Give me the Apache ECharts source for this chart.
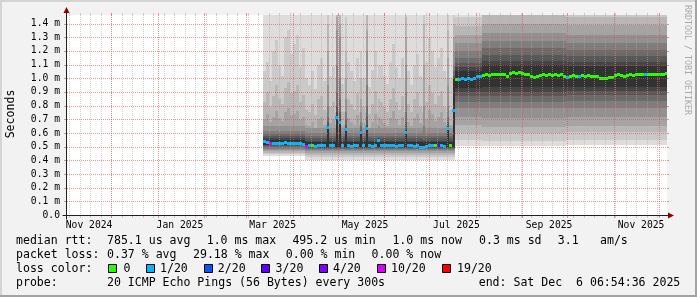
<!DOCTYPE html>
<html><head><meta charset="utf-8">
<script src="https://cdn.jsdelivr.net/npm/echarts@6/dist/echarts.min.js"></script>
<style>html,body{margin:0;padding:0;background:#f2f2f2;}#c{width:697px;height:297px;}</style>
</head><body><div id="c"></div>
<script>
// ---------- time frame: 400 days ending Sat Dec 6 06:54:36 2025 ----------
const rangeDays = 400;
const startUTC = Date.UTC(2024, 10, 1, 6, 54, 36);
const xTickLabels = ['Nov 2024','Jan 2025','Mar 2025','May 2025','Jul 2025','Sep 2025','Nov 2025'];
const xTickDays = [14.7, 75.3, 137.1, 198.7, 259.6, 321.4, 382.7];
const yTicks = [0,0.1,0.2,0.3,0.4,0.5,0.6,0.7,0.8,0.9,1.0,1.1,1.2,1.3,1.4];
const yMax = 1.4631;

// ---------- samples (2-day steps, first one at day 130.667) ----------
const sampleStartDay = 392 / 3;
const sampleStepDays = 2;
const medianMs = [
 0.545,0.535,0.53,0.53,0.525,0.53,0.525,0.535,0.525,0.525,0.53,0.53,0.525,0.52,
 0.505,0.51,0.51,0.505,0.51,0.51,0.515,0.646,0.51,0.515,0.72,0.68,0.51,0.63,
 0.51,0.505,0.515,0.51,0.607,0.515,0.638,0.51,0.505,0.51,0.55,0.515,0.515,0.51,
 0.51,0.51,0.505,0.51,0.51,0.61,0.51,0.51,0.505,0.51,0.50,0.495,0.505,0.51,
 0.51,0.51,0.51,0.51,0.505,0.638,0.51,0.765,
 0.995,0.995,1.0,0.995,1.0,0.995,1.0,1.015,1.015,
 1.025,1.028,1.025,1.03,1.028,1.03,1.035,1.03,1.015,1.04,1.045,1.04,1.045,1.04,1.035,1.035,1.02,1.01,1.02,
 1.025,1.028,1.025,1.028,1.025,1.028,1.025,1.028,1.02,1.01,1.02,1.025,1.02,1.02,1.025,1.02,1.025,1.02,
 1.015,1.015,1.005,1.0,1.005,1.01,1.01,1.025,1.028,1.025,1.02,1.025,1.028,1.025,1.03,1.035,1.03,1.03,
 1.035,1.03,1.035,1.03,1.035,1.035,1.04
];
const lossBucket = [
 1,1,5,1,1,1,1,1,1,1,1,1,1,1,
 5,1,0,1,1,1,1,1,1,1,1,1,1,1,
 1,1,1,1,1,1,1,1,1,1,1,1,1,1,
 1,1,1,1,1,1,1,1,1,1,1,1,1,1,
 1,0,3,1,1,1,0,1,
 0,1,1,1,1,1,1,1,1,
 0,0,0,0,0,0,0,0,0,0,0,0,0,0,0,0,0,0,0,
 0,0,0,0,0,0,0,0,0,1,0,0,0,1,0,0,0,0,
 0,0,0,0,0,0,0,0,0,0,0,0,0,0,0,0,0,1,
 0,0,0,0,0,0,0
];
const lossColors = ['#26ff00','#00b8ff','#0059ff','#5e00ff','#7e00ff','#dd00ff','#ff0000'];
const lossLabels = ['0','1/20','2/20','3/20','4/20','10/20','19/20'];

// ---------- smoke (10 bands, outer -> inner) ----------
const smokeColors = ['#dddddd','#cacaca','#b7b7b7','#a4a4a4','#919191','#7e7e7e','#6b6b6b','#585858','#454545','#323232'];
const blockFirst = [0, 14, 64, 73, 101];
const blockLo = [
 [0.43,0.445,0.455,0.465,0.475,0.485,0.495,0.503,0.51,0.515],
 [0.405,0.425,0.44,0.455,0.465,0.473,0.48,0.487,0.492,0.497],
 [0.505,0.55,0.60,0.655,0.715,0.78,0.83,0.87,0.90,0.93],
 [0.505,0.545,0.60,0.645,0.71,0.78,0.83,0.87,0.90,0.935],
 [0.51,0.55,0.605,0.65,0.715,0.785,0.835,0.875,0.905,0.935]
];
const blockHi = [
 [1.62,null,null,null,0.65,0.615,0.59,0.575,0.56,0.548],
 [1.62,null,null,null,0.635,0.60,0.575,0.56,0.545,0.532],
 [1.62,1.45,1.38,1.32,1.26,1.20,1.15,1.11,1.08,1.05],
 [1.62,1.53,1.46,1.40,1.33,1.27,1.22,1.17,1.13,1.095],
 [1.62,1.52,1.45,1.39,1.32,1.26,1.21,1.16,1.12,1.09]
];
const band2HiP1 = [
 1.05,1.12,0.98,1.20,1.28,1.10,1.02,1.30,1.35,1.18,1.25,1.32,1.08,1.22,
 1.00,0.95,1.05,0.92,1.10,1.15,0.98,1.00,1.02,1.08,1.00,1.00,0.96,1.00,
 1.12,1.05,0.98,1.15,1.00,1.00,1.00,0.94,1.06,1.20,1.00,1.10,1.02,0.96,
 1.12,1.25,1.08,1.00,1.15,1.00,1.05,0.95,1.10,1.18,1.02,1.00,1.12,1.30,
 1.20,1.08,1.15,1.22,1.05,1.00,1.00,1.00
];
const band3HiP1 = [
 0.83,0.90,0.79,0.87,0.95,0.85,0.81,0.93,0.97,0.89,0.91,0.95,0.83,0.88,
 0.77,0.75,0.81,0.73,0.85,0.87,0.77,0.75,0.79,0.83,0.75,0.75,0.75,0.75,
 0.85,0.81,0.77,0.89,0.75,0.79,0.75,0.74,0.81,0.91,0.75,0.83,0.79,0.75,
 0.85,0.93,0.83,0.77,0.87,0.75,0.81,0.75,0.85,0.90,0.79,0.75,0.83,0.95,
 0.89,0.81,0.87,0.91,0.79,0.75,0.77,0.75
];
const band4HiP1 = [
 0.70,0.74,0.68,0.72,0.76,0.71,0.69,0.75,0.78,0.73,0.74,0.76,0.70,0.72,
 0.66,0.65,0.68,0.64,0.70,0.72,0.66,0.66,0.67,0.70,0.66,0.66,0.65,0.66,
 0.71,0.68,0.66,0.73,0.66,0.67,0.66,0.64,0.68,0.74,0.66,0.70,0.67,0.65,
 0.71,0.76,0.70,0.66,0.72,0.66,0.68,0.65,0.71,0.74,0.67,0.66,0.70,0.77,
 0.74,0.69,0.72,0.75,0.68,0.66,0.66,0.66
];
// narrow (one-day) columns where a whole ping round came back high
const spikeIdx = [21,24,25,27,32,34,38,47,53,61,63];
const spikeHi = [
 [1.62,1.50,1.40,1.20,0.95,0.80,0.72,0.68,0.66,0.65],
 [1.62,1.62,1.55,1.45,1.35,1.10,0.90,0.80,0.75,0.72],
 [1.62,1.62,1.50,1.40,1.30,1.00,0.85,0.75,0.70,0.68],
 [1.62,1.45,1.20,1.00,0.85,0.75,0.70,0.66,0.64,0.63],
 [1.62,1.20,1.00,0.85,0.75,0.68,0.65,0.62,0.61,0.607],
 [1.62,1.62,1.50,1.35,1.20,0.95,0.80,0.72,0.66,0.64],
 [1.62,1.10,0.85,0.72,0.65,0.60,0.58,0.565,0.56,0.55],
 [1.62,1.62,1.45,1.30,1.10,0.90,0.75,0.68,0.63,0.61],
 [1.62,1.60,1.40,1.10,0.80,0.65,0.58,0.55,0.54,0.53],
 [1.62,1.55,1.35,1.15,0.95,0.80,0.72,0.68,0.65,0.64],
 [1.62,1.50,1.40,1.30,1.20,1.10,1.05,1.02,1.00,1.00]
];

// ---------- legend texts ----------
const rttTitle = 'median rtt:';
const rttStats = ['785.1 us avg','1.0 ms max','495.2 us min','1.0 ms now','0.3 ms sd','3.1','am/s'];
const lossTitle = 'packet loss:';
const lossStats = ['0.37 % avg','29.18 % max','0.00 % min','0.00 % now'];
const probeText = '20 ICMP Echo Pings (56 Bytes) every 300s';
const endText = 'end: Sat Dec  6 06:54:36 2025';

// ---------- build ----------
const DAY = 86400000;
function dayOf(y, m, d) { return (Date.UTC(y, m, d) - startUTC) / DAY; }
const weekDays = [];
for (let d = dayOf(2024, 10, 3); d <= rangeDays; d += 7) weekDays.push(d);
const monthDays = [];
for (let m = 11; ; m++) { const d = dayOf(2024, m, 1); if (d > rangeDays) break; monthDays.push(d); }

function blockOf(i) { let b = 0; for (let k = 0; k < blockFirst.length; k++) if (i >= blockFirst[k]) b = k; return b; }
const smokeData = [], medianData = [];
for (let i = 0; i < medianMs.length; i++) {
  const b = blockOf(i);
  const lo = blockLo[b].slice();
  const hi = blockHi[b].slice();
  if (i < band2HiP1.length) { hi[1] = band2HiP1[i]; hi[2] = band3HiP1[i]; hi[3] = band4HiP1[i]; }
  const t0 = sampleStartDay + i * sampleStepDays;
  smokeData.push([t0, t0 + sampleStepDays].concat(lo, hi));
  const s = spikeIdx.indexOf(i);
  if (s >= 0) smokeData.push([t0 + sampleStepDays / 3, t0 + sampleStepDays].concat(lo, spikeHi[s]));
  medianData.push([t0, t0 + sampleStepDays, medianMs[i], lossBucket[i]]);
}
const gridData = [];
weekDays.forEach(d => gridData.push([d, 0]));
monthDays.forEach(d => gridData.push([d, 1]));
yTicks.forEach(v => { if (v > 0) gridData.push([v, 2]); });

const MGRID = 'rgba(222,80,80,0.6)', GRID = 'rgba(171,171,171,0.55)';
const mono = '"DejaVu Sans Mono", monospace';

function clampRect(cs, x0, y0, x1, y1) {
  x0 = Math.max(x0, cs.x); x1 = Math.min(x1, cs.x + cs.width);
  y0 = Math.max(y0, cs.y); y1 = Math.min(y1, cs.y + cs.height);
  return {x: x0, y: y0, width: Math.max(0, x1 - x0), height: Math.max(0, y1 - y0)};
}
function renderSmoke(params, api) {
  const cs = params.coordSys;
  const t0 = api.value(0), t1 = api.value(1);
  const ch = [];
  for (let k = 0; k < 10; k++) {
    const lo = api.value(2 + k), hi = api.value(12 + k);
    const a = api.coord([t0, hi]), b = api.coord([t1, lo]);
    ch.push({type: 'rect', shape: clampRect(cs, Math.round(a[0]), Math.round(a[1]), Math.round(b[0]), Math.round(b[1])),
      style: {fill: smokeColors[k]}});
  }
  return {type: 'group', children: ch};
}
function renderMedian(params, api) {
  const cs = params.coordSys;
  const a = api.coord([api.value(0), api.value(2)]), b = api.coord([api.value(1), api.value(2)]);
  const y = Math.round(a[1]);
  return {type: 'rect', shape: clampRect(cs, Math.round(a[0]), y - 1, Math.round(b[0]), y + 2),
    style: {fill: lossColors[api.value(3)]}};
}
function renderGrid(params, api) {
  const cs = params.coordSys;
  const v = api.value(0), kind = api.value(1);
  if (kind === 2) {
    const y = Math.round(api.coord([0, v])[1]) + 0.5;
    return {type: 'group', children: [
      {type: 'line', shape: {x1: cs.x, y1: y, x2: cs.x + cs.width, y2: y}, style: {stroke: MGRID, lineWidth: 1, lineDash: [1, 1]}},
      {type: 'line', shape: {x1: cs.x - 3, y1: y, x2: cs.x - 1, y2: y}, style: {stroke: MGRID, lineWidth: 1}},
      {type: 'line', shape: {x1: cs.x + cs.width, y1: y, x2: cs.x + cs.width + 2, y2: y}, style: {stroke: MGRID, lineWidth: 1}}
    ]};
  }
  const x = Math.floor(api.coord([v, 0])[0]) + 0.5;
  const col = kind === 1 ? MGRID : GRID;
  return {type: 'group', children: [
    {type: 'line', shape: {x1: x, y1: cs.y, x2: x, y2: cs.y + cs.height}, style: {stroke: col, lineWidth: 1, lineDash: [1, 1]}},
    {type: 'line', shape: {x1: x, y1: cs.y - 2, x2: x, y2: cs.y}, style: {stroke: col, lineWidth: 1}},
    {type: 'line', shape: {x1: x, y1: cs.y + cs.height + 1, x2: x, y2: cs.y + cs.height + 3}, style: {stroke: col, lineWidth: 1}}
  ]};
}
function renderAxes(params, api) {
  const o = api.coord([0, 0]), tr = api.coord([rangeDays, yMax]);
  const ox = Math.round(o[0]) - 0.5, oy = Math.round(o[1]) + 0.5;
  const ex = Math.round(tr[0]), ty = Math.round(tr[1]);
  return {type: 'group', children: [
    {type: 'line', shape: {x1: ox - 4, y1: oy, x2: ex + 4, y2: oy}, style: {stroke: '#1f1f1f', lineWidth: 1}},
    {type: 'line', shape: {x1: ox, y1: oy + 4, x2: ox, y2: ty - 4}, style: {stroke: '#1f1f1f', lineWidth: 1}},
    {type: 'polygon', shape: {points: [[ex + 1, oy - 3], [ex + 1, oy + 3], [ex + 7, oy]]}, style: {fill: '#900000'}},
    {type: 'polygon', shape: {points: [[ox - 3, ty - 2], [ox + 3, ty - 2], [ox, ty - 8]]}, style: {fill: '#900000'}}
  ]};
}

const chart = echarts.init(document.getElementById('c'), null, {renderer: 'canvas', width: 697, height: 297});
const txt = (text, x, y, extra) => Object.assign({type: 'text', silent: true, style: Object.assign({text, x, y, font: '11.55px ' + mono, fill: '#000', verticalAlign: 'middle'}, extra || {})});
const graphics = [
  {type: 'rect', silent: true, shape: {x: 0, y: 0, width: 697, height: 2}, style: {fill: '#d4d4d4'}},
  {type: 'rect', silent: true, shape: {x: 0, y: 0, width: 2, height: 297}, style: {fill: '#d4d4d4'}},
  {type: 'rect', silent: true, shape: {x: 0, y: 295, width: 697, height: 2}, style: {fill: '#a3a3a3'}},
  {type: 'rect', silent: true, shape: {x: 695, y: 0, width: 2, height: 297}, style: {fill: '#a3a3a3'}},
  txt('Seconds', 10.5, 114, {align: 'center', }),
  txt('RRDTOOL / TOBI OETIKER', 687, 60, {align: 'center', font: '8.3px ' + mono, fill: '#a9a9a9'}),
  txt(rttTitle, 16, 241), txt(lossTitle, 16, 255), txt('loss color:', 16, 269), txt('probe:', 16, 283),
  txt(probeText, 107, 283), txt(endText, 478.7, 283)
];
graphics[4].rotation = Math.PI / 2; graphics[4].x = 10.5; graphics[4].y = 114; graphics[4].style.x = 0; graphics[4].style.y = 0;
graphics[5].rotation = -Math.PI / 2; graphics[5].x = 687; graphics[5].y = 60; graphics[5].style.x = 0; graphics[5].style.y = 0;
const rttX = [107, 206.7, 292.4, 392.4, 479, 557.8, 600];
rttStats.forEach((s, i) => graphics.push(txt(s, rttX[i], 241)));
const lossX = [107, 193, 285.8, 371.6];
lossStats.forEach((s, i) => graphics.push(txt(s, lossX[i], 255)));
const boxX = [108.5, 146.5, 204.5, 261.5, 319.5, 377.5, 442.5];
const boxLabelX = [123.6, 160, 217.8, 275.6, 333, 391, 457];
lossLabels.forEach((s, i) => {
  graphics.push({type: 'rect', silent: true, shape: {x: boxX[i], y: 264.5, width: 8, height: 8}, style: {fill: lossColors[i], stroke: '#000', lineWidth: 1}});
  graphics.push(txt(s, boxLabelX[i], 269));
});

chart.setOption({
  animation: false,
  backgroundColor: '#f2f2f2',
  grid: {left: 67, top: 15, width: 600, height: 200, show: true, backgroundColor: '#ffffff', borderWidth: 0},
  xAxis: {type: 'value', min: 0, max: rangeDays,
    axisLine: {show: false}, axisTick: {show: false}, splitLine: {show: false},
    axisLabel: {customValues: xTickDays, margin: 5, color: '#000', fontFamily: mono, fontSize: 9.7,
      formatter: v => { let best = 0; xTickDays.forEach((d, i) => { if (Math.abs(d - v) < Math.abs(xTickDays[best] - v)) best = i; }); return xTickLabels[best]; }}},
  yAxis: {type: 'value', min: 0, max: yMax,
    axisLine: {show: false}, axisTick: {show: false}, splitLine: {show: false},
    axisLabel: {customValues: yTicks, margin: 7, color: '#000', fontFamily: mono, fontSize: 9.7,
      formatter: v => v < 0.05 ? '0.0' : v.toFixed(1) + ' m'}},
  series: [
    {type: 'custom', name: 'smoke', silent: true, z: 1, renderItem: renderSmoke, data: smokeData},
    {type: 'custom', name: 'median', silent: true, z: 2, renderItem: renderMedian, data: medianData},
    {type: 'custom', name: 'grid', silent: true, z: 3, renderItem: renderGrid, data: gridData},
    {type: 'custom', name: 'axes', silent: true, z: 4, renderItem: renderAxes, data: [[0, 0]]}
  ],
  graphic: graphics
});
</script></body></html>
